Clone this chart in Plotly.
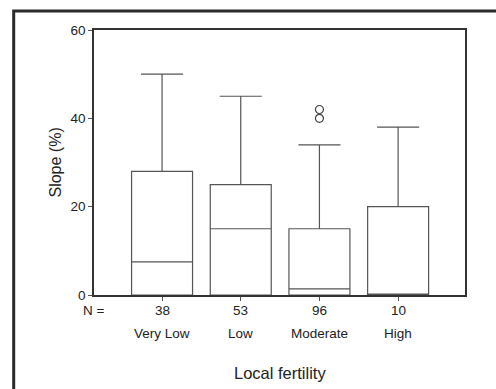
import plotly.graph_objects as go

categories = ["Very Low", "Low", "Moderate", "High"]
n_values = ["38", "53", "96", "10"]
q1 = [0, 0, 0, 0]
median = [7.5, 15, 1.4, 0]
q3 = [28, 25, 15, 20]
lower = [0, 0, 0, 0]
upper = [50, 45, 34, 38]
outlier_cat = [2, 2]
outlier_val = [42, 40]
y_ticks = [0, 20, 40, 60]

FONT = "Liberation Sans, Arial, sans-serif"
TXT = "#222222"

fig = go.Figure()
for i, c in enumerate(categories):
    fig.add_trace(go.Box(
        x=[i], q1=[q1[i]], median=[median[i]], q3=[q3[i]],
        lowerfence=[lower[i]], upperfence=[upper[i]],
        width=0.775, whiskerwidth=0.69,
        fillcolor="rgba(255,255,255,0)",
        line=dict(color="#555555", width=1.2),
        boxpoints=False, showlegend=False, name=c,
    ))

fig.add_trace(go.Scatter(
    x=outlier_cat, y=outlier_val, mode="markers",
    marker=dict(symbol="circle-open", size=8, color="#444444", line=dict(width=1.2)),
    showlegend=False,
))

# labels below axis
ann = [dict(x=-0.86, y=310, text="N =")]
for i in range(len(categories)):
    ann.append(dict(x=i, y=310, text=n_values[i]))
    ann.append(dict(x=i, y=333, text=categories[i]))
annotations = []
for a in ann:
    annotations.append(dict(
        x=a["x"], xref="x", y=(295 - a["y"]) / 265, yref="paper",
        text=a["text"], showarrow=False, xanchor="center", yanchor="middle",
        font=dict(family=FONT, size=13.5, color=TXT),
    ))
annotations.append(dict(
    x=0.5, xref="paper", y=(295 - 373) / 265, yref="paper",
    text="Local fertility", showarrow=False, xanchor="center", yanchor="middle",
    font=dict(family=FONT, size=16.5, color=TXT),
))
annotations.append(dict(
    x=(55 - 94) / 371, xref="paper", y=0.5, yref="paper",
    text="Slope (%)", textangle=-90, showarrow=False,
    xanchor="center", yanchor="middle",
    font=dict(family=FONT, size=16, color=TXT),
))

fig.update_layout(
    width=496, height=389,
    margin=dict(l=94, r=31, t=30, b=94),
    paper_bgcolor="white", plot_bgcolor="white",
    annotations=annotations,
    shapes=[dict(type="rect", xref="paper", yref="paper",
                 x0=(13.7 - 94) / 371, x1=2, y0=-1, y1=(295 - 11) / 265,
                 line=dict(color="#2a2a2a", width=3), layer="above")],
    xaxis=dict(range=[-0.865, 3.85], tickvals=list(range(len(categories))),
               showticklabels=False, ticks="outside", ticklen=4, tickcolor="#555",
               showgrid=False, zeroline=False, showline=True, linecolor="#333",
               linewidth=1.5, mirror=True, fixedrange=True),
    yaxis=dict(range=[0, 60], tickvals=y_ticks, ticks="outside", ticklen=4,
               tickcolor="#555", showgrid=False, zeroline=False, showline=True,
               linecolor="#333", linewidth=1.5, mirror=True,
               tickfont=dict(family=FONT, size=13.5, color=TXT)),
)

fig.write_html("out.html")
